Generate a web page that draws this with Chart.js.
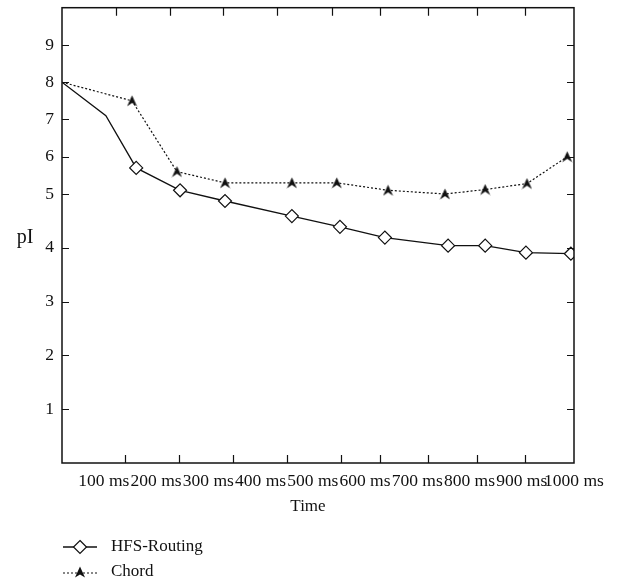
<!DOCTYPE html>
<html>
<head>
<meta charset="utf-8">
<title>pI over time</title>
<script src="https://cdn.jsdelivr.net/npm/chart.js@4/dist/chart.umd.min.js"></script>
<style>
  html, body { margin: 0; padding: 0; background: #fff; }
  #wrap { position: relative; width: 630px; height: 584px; }
  #legend { position: absolute; left: 0; top: 535px; width: 400px; font: 17px "Liberation Serif", "Times New Roman", serif; color: #111; }
  .row { position: relative; height: 25px; }
  .row svg { position: absolute; left: 60px; top: 2px; }
  .row span { position: absolute; left: 111px; top: 1px; white-space: nowrap; }
</style>
</head>
<body>
<div id="wrap">
  <canvas id="chart" width="630" height="584"></canvas>
  <div id="legend">
    <div class="row">
      <svg width="40" height="20"><line x1="3" y1="10" x2="37" y2="10" stroke="#111" stroke-width="1.3"/><polygon points="20,3.5 26.5,10 20,16.5 13.5,10" fill="#fff" stroke="#111" stroke-width="1.2"/></svg>
      <span>HFS-Routing</span>
    </div>
    <div class="row">
      <svg width="40" height="20"><line x1="3" y1="11" x2="37" y2="11" stroke="#111" stroke-width="1.2" stroke-dasharray="2 2"/><polygon points="20,4.5 25,15.5 20,12.5 15,15.5" fill="#111"/></svg>
      <span>Chord</span>
    </div>
  </div>
</div>
<script>
// ─── Data ───
const xLabelValues = [100, 200, 300, 400, 500, 600, 700, 800, 900, 1000];
const yTickValues = [1, 2, 3, 4, 5, 6, 7, 8, 9];
const topTickMs = [123, 227, 328, 432, 537, 629, 721, 814, 906];
const bottomTickMs = [141, 244, 347, 451, 554, 629, 721, 814, 906];

// first point of each series is the unmarked start at the left axis
const hfsTime = [20, 104, 162, 246, 332, 460, 552, 638, 759, 830, 908, 994];
const hfsPI   = [8.0, 7.1, 5.7, 5.1, 4.87, 4.59, 4.39, 4.19, 4.04, 4.04, 3.91, 3.89];
const hfsMarked = [false, false, true, true, true, true, true, true, true, true, true, true];

const chordTime = [20, 154, 240, 332, 460, 546, 644, 753, 830, 910, 987];
const chordPI   = [8.0, 7.5, 5.6, 5.3, 5.3, 5.3, 5.1, 5.0, 5.12, 5.28, 6.0];
const chordMarked = [false, true, true, true, true, true, true, true, true, true, true];

// y axis is stretched below 5 in the original (two different unit lengths)
const Y_BREAK = 5;
const Y_BREAK_FRAC = 270 / 457;

const FONT = '"Liberation Serif", "Times New Roman", serif';

// ─── Split linear scale ───
class SplitLinearScale extends Chart.LinearScale {
  getPixelForValue(value) {
    const lo = this.min, hi = this.max;
    let dec;
    if (value <= Y_BREAK) dec = (value - lo) / (Y_BREAK - lo) * Y_BREAK_FRAC;
    else dec = Y_BREAK_FRAC + (value - Y_BREAK) / (hi - Y_BREAK) * (1 - Y_BREAK_FRAC);
    return this.getPixelForDecimal(dec);
  }
  getValueForPixel(pixel) {
    const dec = this.getDecimalForPixel(pixel);
    if (dec <= Y_BREAK_FRAC) return this.min + dec / Y_BREAK_FRAC * (Y_BREAK - this.min);
    return Y_BREAK + (dec - Y_BREAK_FRAC) / (1 - Y_BREAK_FRAC) * (this.max - Y_BREAK);
  }
}
SplitLinearScale.id = 'splitLinear';
SplitLinearScale.defaults = Chart.LinearScale.defaults;
Chart.register(SplitLinearScale);

// ─── Arrowhead marker for Chord ───
function arrowHead() {
  const c = document.createElement('canvas');
  c.width = 11; c.height = 12;
  const g = c.getContext('2d');
  g.fillStyle = '#111';
  g.beginPath();
  g.moveTo(5.5, 0.5); g.lineTo(10.5, 11.5); g.lineTo(5.5, 8); g.lineTo(0.5, 11.5);
  g.closePath(); g.fill();
  return c;
}
const arrow = arrowHead();

// ─── Frame, inward ticks, axis titles ───
const framePlugin = {
  id: 'frame',
  afterDraw(chart) {
    const { ctx, chartArea: a, scales } = chart;
    const x = scales.x, y = scales.y;
    ctx.save();
    ctx.strokeStyle = '#111';
    ctx.lineWidth = 1.5;
    ctx.strokeRect(a.left, a.top, a.right - a.left, a.bottom - a.top);
    ctx.lineWidth = 1.2;
    ctx.beginPath();
    yTickValues.forEach(v => {
      const py = Math.round(y.getPixelForValue(v)) + 0.5;
      ctx.moveTo(a.left, py); ctx.lineTo(a.left + 7, py);
      ctx.moveTo(a.right, py); ctx.lineTo(a.right - 7, py);
    });
    topTickMs.forEach(v => {
      const px = Math.round(x.getPixelForValue(v)) + 0.5;
      ctx.moveTo(px, a.top); ctx.lineTo(px, a.top + 8);
    });
    bottomTickMs.forEach(v => {
      const px = Math.round(x.getPixelForValue(v)) + 0.5;
      ctx.moveTo(px, a.bottom); ctx.lineTo(px, a.bottom - 8);
    });
    ctx.stroke();

    ctx.fillStyle = '#111';
    ctx.font = '20px ' + FONT;
    ctx.textAlign = 'center';
    ctx.textBaseline = 'alphabetic';
    ctx.fillText('pI', 25, y.getPixelForValue(4) - 5);
    ctx.font = '17px ' + FONT;
    ctx.textBaseline = 'middle';
    ctx.fillText('Time', (a.left + a.right) / 2 - 10, a.bottom + 44);
    ctx.restore();
  }
};

new Chart(document.getElementById('chart'), {
  type: 'line',
  data: {
    datasets: [
      {
        label: 'HFS-Routing',
        data: hfsTime.map((t, i) => ({ x: t, y: hfsPI[i] })),
        borderColor: '#111',
        borderWidth: 1.3,
        tension: 0,
        pointStyle: 'rectRot',
        pointRadius: hfsMarked.map(m => m ? 6.5 : 0),
        pointBackgroundColor: '#fff',
        pointBorderColor: '#111',
        pointBorderWidth: 1.2
      },
      {
        label: 'Chord',
        data: chordTime.map((t, i) => ({ x: t, y: chordPI[i] })),
        borderColor: '#111',
        borderWidth: 1.2,
        borderDash: [2, 2],
        tension: 0,
        pointStyle: arrow,
        pointRadius: chordMarked.map(m => m ? 5 : 0)
      }
    ]
  },
  options: {
    responsive: false,
    animation: false,
    events: [],
    layout: { padding: { left: 0, top: 6, right: 56, bottom: 61 } },
    plugins: { legend: { display: false }, tooltip: { enabled: false } },
    scales: {
      x: {
        type: 'linear',
        min: 20,
        max: 1000,
        grid: { display: false },
        border: { display: false },
        afterBuildTicks: s => { s.ticks = xLabelValues.map(v => ({ value: v })); },
        afterFit: s => { s.height = 60; s.paddingLeft = 0; s.paddingRight = 0; },
        ticks: {
          autoSkip: false,
          maxRotation: 0,
          minRotation: 0,
          padding: 0,
          color: '#111',
          font: { family: FONT, size: 17.5 },
          callback: v => v + ' ms'
        }
      },
      y: {
        type: 'splitLinear',
        min: 0,
        max: 10,
        grid: { display: false },
        border: { display: false },
        afterBuildTicks: s => { s.ticks = yTickValues.map(v => ({ value: v })); },
        afterFit: s => { s.width = 62; s.paddingTop = 0; s.paddingBottom = 0; },
        ticks: {
          padding: 0,
          color: '#111',
          font: { family: FONT, size: 17.5 }
        }
      }
    }
  },
  plugins: [framePlugin]
});
</script>
</body>
</html>
